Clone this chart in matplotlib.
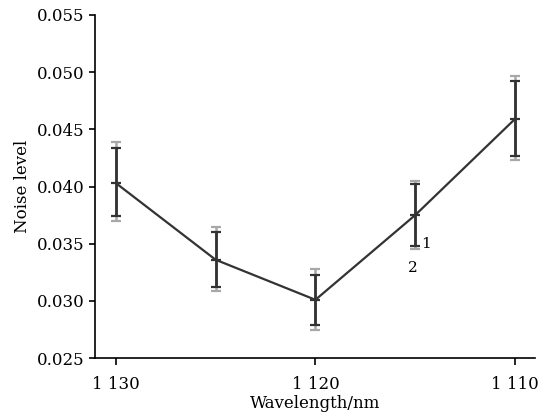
import numpy as np
import matplotlib.pyplot as plt

plt.rcParams["font.family"] = ["DejaVu Serif"]

wavelength = [1130, 1125, 1120, 1115, 1110]
noise = [0.0403, 0.0336, 0.0301, 0.0375, 0.0459]
# series 1 (dark caps) and series 2 (light caps) bounds
low1 = [0.0374, 0.0312, 0.0279, 0.0348, 0.0427]
high1 = [0.0434, 0.0360, 0.0323, 0.0402, 0.0492]
low2 = [0.0370, 0.0309, 0.0275, 0.0345, 0.0423]
high2 = [0.0439, 0.0365, 0.0328, 0.0405, 0.0497]
xticks = [1130, 1120, 1110]
xticklabels = ["1 130", "1 120", "1 110"]
yticks = [0.025, 0.030, 0.035, 0.040, 0.045, 0.050, 0.055]

x = np.array(wavelength)
y = np.array(noise)

fig = plt.figure(figsize=(5.52, 4.15), dpi=100)
ax = fig.add_axes([0.172, 0.137, 0.797, 0.827])

# light outer caps (series 2)
ax.errorbar(x, y, yerr=[y - np.array(low2), np.array(high2) - y], fmt="none",
            ecolor="#a8a8a8", elinewidth=1.8, capsize=3.6, capthick=1.6, zorder=1)
# dark inner caps and bars (series 1)
ax.errorbar(x, y, yerr=[y - np.array(low1), np.array(high1) - y], fmt="none",
            ecolor="#333333", elinewidth=2, capsize=3.3, capthick=1.6, zorder=2)
ax.plot(x, y, color="#333333", lw=1.6, marker="_", ms=7, mew=1.6, zorder=3)

ax.text(1114.45, 0.0350, "1", fontsize=11, va="center", ha="center")
ax.text(1115.1, 0.0329, "2", fontsize=11, va="center", ha="center")

ax.set_xlim(1131.05, 1109.0)
ax.set_ylim(0.025, 0.055)
ax.set_xticks(xticks)
ax.set_xticklabels(xticklabels)
ax.set_yticks(yticks)
ax.set_yticklabels(["%.3f" % v for v in yticks])
ax.tick_params(labelsize=12, direction="out", length=4, width=1.2)
ax.tick_params(axis="x", length=5, pad=8)
ax.spines["top"].set_visible(False)
ax.spines["right"].set_visible(False)
ax.spines["left"].set_linewidth(1.2)
ax.spines["bottom"].set_linewidth(1.2)
ax.set_xlabel("Wavelength/nm", fontsize=12, labelpad=1)
ax.set_ylabel("Noise level", fontsize=12)

fig.savefig("out.png", dpi=100)
